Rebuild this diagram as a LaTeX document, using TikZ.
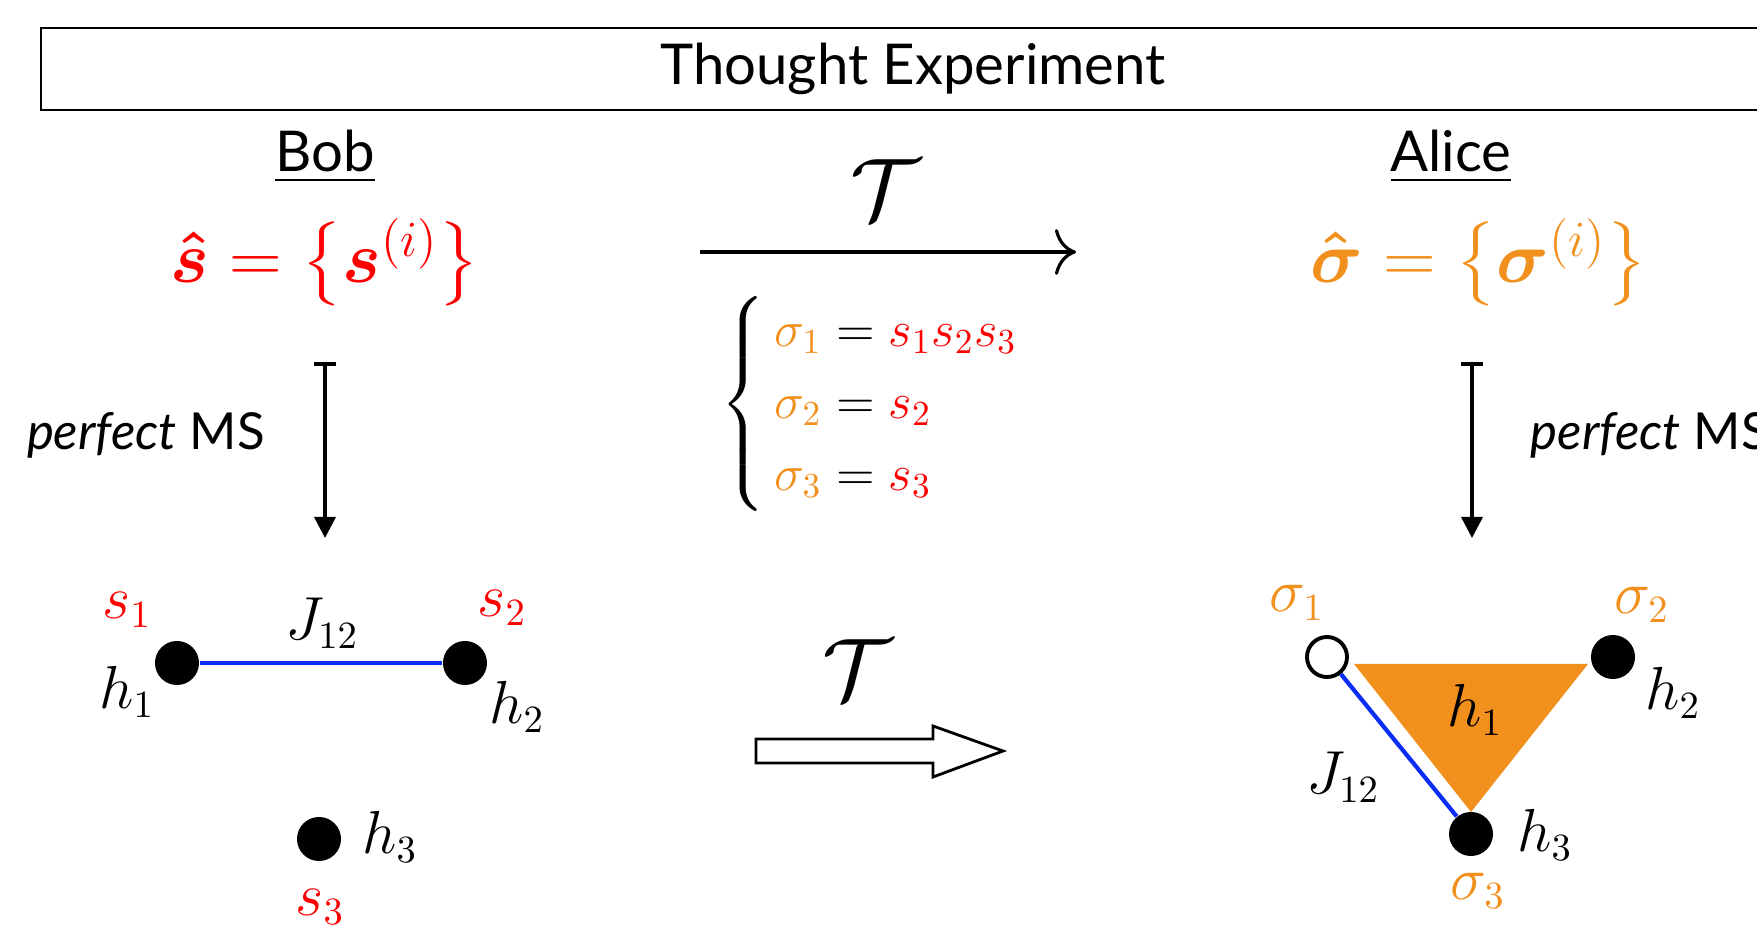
\documentclass[tikz,border=0pt]{standalone}
\usepackage{amsmath,amssymb,bm}
\usepackage[no-math]{fontspec}
\setmainfont{Lato}
\usetikzlibrary{arrows.meta,positioning}
\definecolor{sred}{HTML}{FF0000}
\definecolor{sorange}{HTML}{F2901E}
\definecolor{sblue}{HTML}{0A2EF5}
\tikzset{
  hd/.style={font=\fontsize{16}{19}\selectfont,inner sep=0pt},
  bigeq/.style={font=\fontsize{20}{24}\selectfont,inner sep=0pt},
  lb/.style={font=\fontsize{16}{19}\selectfont,inner sep=0pt},
  tl/.style={font=\fontsize{24}{28}\selectfont,inner sep=0pt},
  ms/.style={{Bar[width=6pt,line width=1pt]}-{Triangle[length=6pt,width=6pt]},line width=1pt},
  dot/.style={circle,fill=black,minimum size=4.4mm,inner sep=0pt},
  odot/.style={circle,draw=black,line width=1.1pt,fill=white,minimum size=4.0mm,inner sep=0pt},
  bond/.style={sblue,line width=1.2pt}
}
\begin{document}
\begin{tikzpicture}[x=0.01cm,y=-0.01cm]
\clip (0,0) rectangle (1757,937);
% header
\draw[line width=0.8pt] (41,28) rectangle (1800,110);
\node[hd] (title) at (913,69) {Thought Experiment};
\node[hd] (bob) at (325,157) {\underline{Bob}};
\node[hd] (alice) at (1451,157) {\underline{Alice}};
\node[bigeq,text=sred] (seqn) at (325,263) {$\bm{\hat{s}}=\big\{\bm{s}^{(i)}\big\}$};
\node[bigeq,text=sorange] (sigeqn) at (1479,263) {$\bm{\hat{\sigma}}=\big\{\bm{\sigma}^{(i)}\big\}$};
% map T
\coordinate (ta) at (700,252); \coordinate (tb) at (1076,252);
\draw[-{Computer Modern Rightarrow[length=6pt,width=13pt]},line width=0.9pt] (ta) -- (tb);
\node[tl] (t1) at (885,190) {$\mathcal{T}$};
\node[font=\fontsize{14.5}{17.5}\selectfont,inner sep=0pt,anchor=west] (map) at (720,404)
 {\def\arraystretch{1.17}$\left\{\begin{array}{@{\,}l}
 {\color{sorange}\sigma_1}={\color{sred}s_1s_2s_3}\\
 {\color{sorange}\sigma_2}={\color{sred}s_2}\\
 {\color{sorange}\sigma_3}={\color{sred}s_3}
 \end{array}\right.$};
% measurement
\coordinate (bt) at (325,362); \coordinate (bb) at (325,538);
\coordinate (at) at (1472,362); \coordinate (ab) at (1472,538);
\draw[ms] (bt) -- (bb); \draw[ms] (at) -- (ab);
\node[font=\fontsize{14.5}{17}\selectfont,inner sep=0pt] (msl) at (146,435) {\textit{perfect} MS};
\node[font=\fontsize{14.5}{17}\selectfont,inner sep=0pt,anchor=west] (msr) at (1530,435) {\textit{perfect} MS};
% Bob graph
\node[dot] (s1) at (177,663) {}; \node[dot] (s2) at (465,663) {}; \node[dot] (s3) at (319,839) {};
\draw[bond] (s1) -- (s2);
\node[lb,text=sred] at (127,610) {$s_1$}; \node[lb,text=sred] at (502,608) {$s_2$}; \node[lb,text=sred] at (320,907) {$s_3$};
\node[lb] at (127,692) {$h_1$}; \node[lb] at (517,707) {$h_2$}; \node[lb] at (390,837) {$h_3$};
\node[lb] at (322,623) {$J_{12}$};
% T arrow
\node[tl] (t2) at (857,670) {$\mathcal{T}$};
\draw[line width=0.8pt] (756,739) -- (933,739) -- (933,726) -- (1003,751) -- (933,777) -- (933,763) -- (756,763) -- cycle;
% Alice graph
\fill[sorange] (1354,664) -- (1588,664) -- (1471,812) -- cycle;
\node[odot] (g1) at (1327,657) {}; \node[dot] (g2) at (1613,657) {}; \node[dot] (g3) at (1471,834) {};
\draw[bond] (g1) -- (g3);
\node[lb,text=sorange] at (1297,603) {$\sigma_1$}; \node[lb,text=sorange] at (1642,605) {$\sigma_2$}; \node[lb,text=sorange] at (1478,891) {$\sigma_3$};
\node[lb] at (1475,710) {$h_1$}; \node[lb] at (1673,693) {$h_2$}; \node[lb] at (1545,835) {$h_3$};
\node[lb] at (1343,777) {$J_{12}$};
\end{tikzpicture}
\end{document}
